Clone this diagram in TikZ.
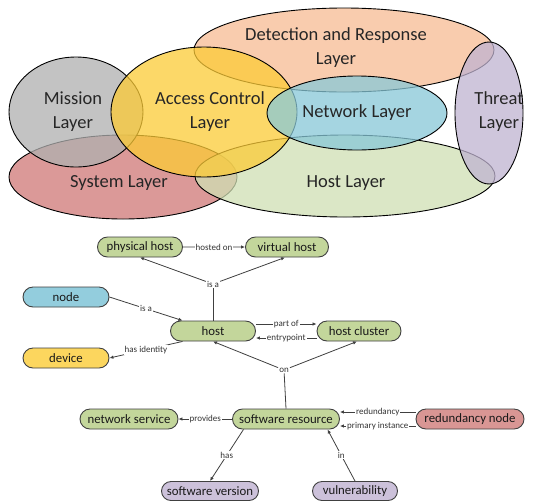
\documentclass[tikz,border=0pt]{standalone}
\usepackage{fontspec}
\setmainfont{Carlito}
\usetikzlibrary{arrows.meta,shapes.misc}
\definecolor{cGray}{RGB}{176,176,176}
\definecolor{cRed}{RGB}{208,120,118}
\definecolor{cYel}{RGB}{252,203,54}
\definecolor{cOra}{RGB}{247,188,147}
\definecolor{cBlu}{RGB}{136,200,216}
\definecolor{cGrn}{RGB}{208,223,179}
\definecolor{cPur}{RGB}{192,179,209}
\definecolor{nGrn}{RGB}{195,214,155}
\definecolor{nBlu}{RGB}{147,205,221}
\definecolor{nYel}{RGB}{252,214,94}
\definecolor{nRed}{RGB}{217,150,148}
\definecolor{nPur}{RGB}{204,193,218}
\definecolor{edgeC}{RGB}{64,64,64}
\tikzset{
  layer/.style={draw=black, line width=0.9pt, fill opacity=0.75},
  ltext/.style={font=\fontsize{18.5}{24}\selectfont, align=center, text=black!85},
  concept/.style={rounded rectangle, draw=black!75, line width=0.9pt, minimum height=20pt, inner sep=0pt, font=\fontsize{12.8}{15}\selectfont, text=black!90},
  lbl/.style={fill=white, inner sep=1pt, font=\fontsize{9}{10}\selectfont, text=black!80},
  ln/.style={draw=edgeC, line width=0.8pt},
  arr/.style={ln, -{Latex[length=4pt,width=3.5pt]}}
}
\begin{document}
\begin{tikzpicture}[x=1pt,y=-1pt]
\useasboundingbox (0,0) rectangle (534,501);
% layers
\fill[white] (0,0) rectangle (534,501);
\draw[layer, fill=cRed] (123,177) ellipse [x radius=114, y radius=42];
\draw[layer, fill=cGrn] (345,176) ellipse [x radius=150, y radius=41];
\draw[layer, fill=cOra] (344,50) ellipse [x radius=150, y radius=42];
\draw[layer, fill=cGray] (76,112) ellipse [x radius=67, y radius=55];
\draw[layer, fill=cYel] (204,112) ellipse [x radius=93, y radius=65];
\draw[layer, fill=cBlu] (357,113) ellipse [x radius=90, y radius=37];
\draw[layer, fill=cPur] (489,113) ellipse [x radius=34, y radius=71];
\node[ltext] (tDet) at (336,48) {Detection and Response\\Layer};
\node[ltext] (tMis) at (73,112) {Mission\\Layer};
\node[ltext] (tAcc) at (210,112) {Access Control\\Layer};
\node[ltext] (tNet) at (357,113) {Network Layer};
\node[ltext] (tThr) at (499,112) {Threat\\Layer};
\node[ltext] (tSys) at (119,183) {System Layer};
\node[ltext] (tHos) at (346,183) {Host Layer};
% concept map
\node[concept, fill=nGrn, minimum width=85pt] (phys) at (140,247) {physical host};
\node[concept, fill=nGrn, minimum width=83pt] (virt) at (287,247) {virtual host};
\node[concept, fill=nBlu, minimum width=86pt] (nd) at (66,297) {node};
\node[concept, fill=nYel, minimum width=86pt] (dev) at (66,358) {device};
\node[concept, fill=nGrn, minimum width=85pt] (host) at (213,331) {host};
\node[concept, fill=nGrn, minimum width=84pt] (clu) at (359,331) {host cluster};
\node[concept, fill=nGrn, minimum width=98pt] (nsv) at (129,419) {network service};
\node[concept, fill=nGrn, minimum width=107pt] (swr) at (286,419) {software resource};
\node[concept, fill=nRed, minimum width=108pt] (red) at (470,419) {redundancy node};
\node[concept, fill=nPur, minimum width=97pt, minimum height=19pt] (swv) at (210,491) {software version};
\node[concept, fill=nPur, minimum width=85pt, minimum height=19pt] (vul) at (355,491) {vulnerability};
% edges
\draw[arr] (phys) -- node[lbl] {hosted on} (virt);
\node[lbl] (isa) at (213,284) {is a};
\draw[ln] (host.north) -- (isa);
\draw[arr] (isa) -- (phys.south);
\draw[arr] (isa) -- ([xshift=-2pt]virt.south);
\draw[arr] (nd.east) -- node[lbl] {is a} ([xshift=2pt]host.north west);
\draw[arr] ([xshift=2pt]host.south west) -- node[lbl] {has identity} (dev.east);
\draw[arr] ([yshift=7pt]host.east) -- node[lbl] {part of} ([yshift=7pt]clu.west);
\draw[arr] ([yshift=-7pt]clu.west) -- node[lbl] {entrypoint} ([yshift=-7pt]host.east);
\node[lbl] (on) at (284,370) {on};
\draw[ln] (swr.north) -- (on);
\draw[arr] (on) -- (host.south);
\draw[arr] (on) -- ([xshift=-2pt]clu.south);
\draw[arr] (swr.west) -- node[lbl] {provides} (nsv.east);
\draw[arr] ([yshift=7pt]red.west) -- node[lbl] {redundancy} ([yshift=7pt]swr.east);
\draw[arr] ([yshift=-7pt]red.west) -- node[lbl] {primary instance} ([yshift=-7pt]swr.east);
\draw[arr] ([xshift=1pt]swr.south west) -- node[lbl] {has} (swv.north);
\draw[arr] (vul.north) -- node[lbl] {in} ([xshift=-2pt]swr.south east);
\end{tikzpicture}
\end{document}
